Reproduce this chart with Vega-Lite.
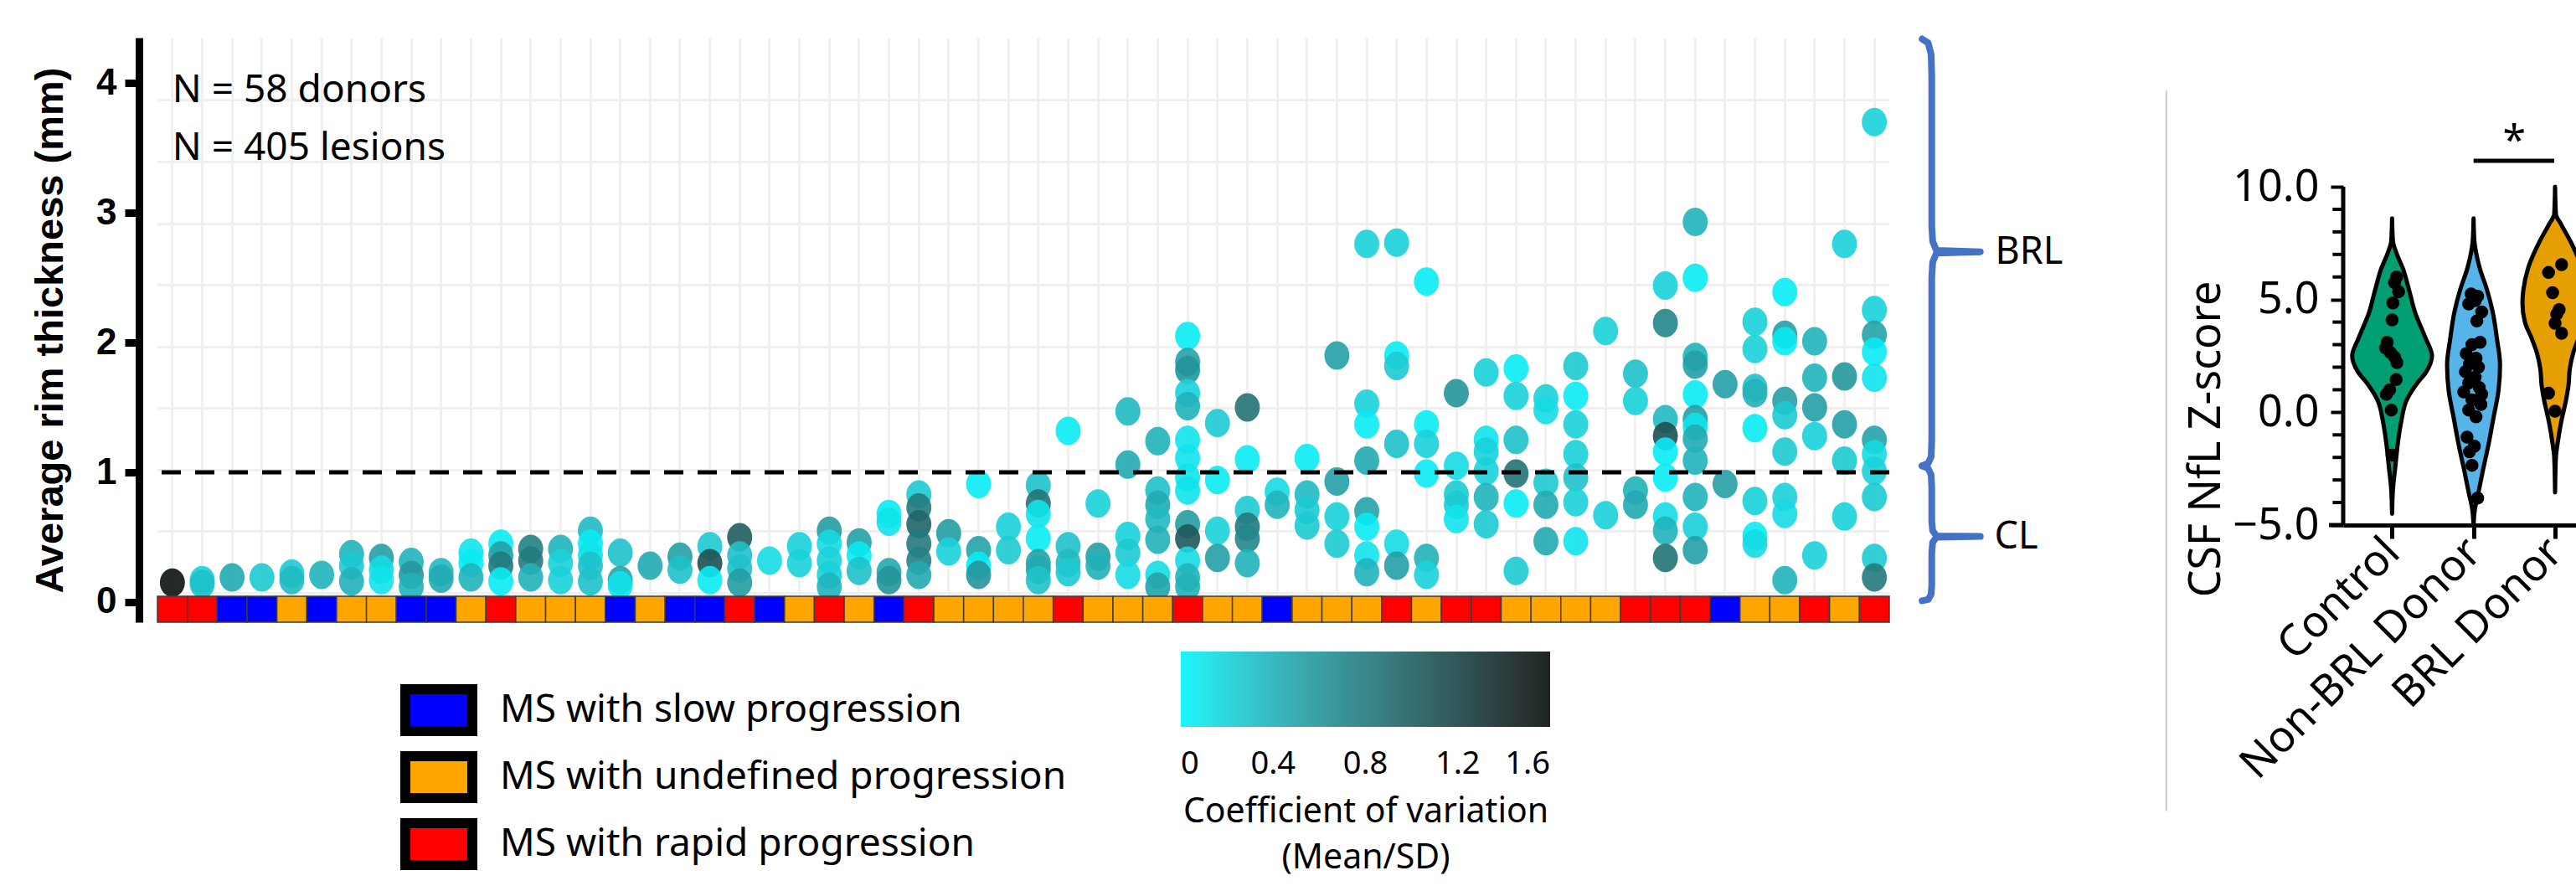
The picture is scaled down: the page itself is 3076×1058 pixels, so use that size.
{
"$schema": "https://vega.github.io/schema/vega-lite/v6.json",
"padding": {"left": 36, "top": 42, "right": 0, "bottom": 0},
"config": {"view": {"stroke": null}, "font": "Noto Sans", "axis": {"labelLimit": 1000, "titleLimit": 1000}, "legend": {"labelLimit": 1000, "titleLimit": 1000}},
"resolve": {"scale": {"color": "independent", "fill": "independent"}},
"spacing": 20,
"datasets": {
"lesions": [
{"d":1,"v":0.15,"c":1.55},
{"d":2,"v":0.17,"c":0.2},{"d":2,"v":0.14,"c":0.3},
{"d":3,"v":0.19,"c":0.45},
{"d":4,"v":0.19,"c":0.25},
{"d":5,"v":0.22,"c":0.25},{"d":5,"v":0.17,"c":0.35},
{"d":6,"v":0.21,"c":0.38},
{"d":7,"v":0.37,"c":0.38},{"d":7,"v":0.28,"c":0.25},{"d":7,"v":0.16,"c":0.4},
{"d":8,"v":0.34,"c":0.52},{"d":8,"v":0.25,"c":0.15},{"d":8,"v":0.17,"c":0.1},
{"d":9,"v":0.31,"c":0.38},{"d":9,"v":0.21,"c":0.58},{"d":9,"v":0.12,"c":0.4},
{"d":10,"v":0.23,"c":0.35},{"d":10,"v":0.18,"c":0.45},
{"d":11,"v":0.38,"c":0.1},{"d":11,"v":0.3,"c":0.05},{"d":11,"v":0.19,"c":0.38},
{"d":12,"v":0.45,"c":0.05},{"d":12,"v":0.36,"c":0.52},{"d":12,"v":0.28,"c":0.8},{"d":12,"v":0.16,"c":0.05},
{"d":13,"v":0.41,"c":0.75},{"d":13,"v":0.32,"c":0.8},{"d":13,"v":0.19,"c":0.4},
{"d":14,"v":0.41,"c":0.38},{"d":14,"v":0.3,"c":0.2},{"d":14,"v":0.17,"c":0.2},
{"d":15,"v":0.55,"c":0.35},{"d":15,"v":0.45,"c":0.05},{"d":15,"v":0.36,"c":0.1},{"d":15,"v":0.28,"c":0.3},{"d":15,"v":0.16,"c":0.3},
{"d":16,"v":0.38,"c":0.3},{"d":16,"v":0.17,"c":0.5},{"d":16,"v":0.13,"c":0.1},
{"d":17,"v":0.28,"c":0.45},
{"d":18,"v":0.35,"c":0.52},{"d":18,"v":0.25,"c":0.3},
{"d":19,"v":0.43,"c":0.25},{"d":19,"v":0.3,"c":1.1},{"d":19,"v":0.17,"c":0.05},
{"d":20,"v":0.5,"c":1.0},{"d":20,"v":0.36,"c":0.3},{"d":20,"v":0.26,"c":0.3},{"d":20,"v":0.15,"c":0.55},
{"d":21,"v":0.32,"c":0.15},
{"d":22,"v":0.43,"c":0.2},{"d":22,"v":0.3,"c":0.2},
{"d":23,"v":0.55,"c":0.55},{"d":23,"v":0.45,"c":0.15},{"d":23,"v":0.32,"c":0.2},{"d":23,"v":0.21,"c":0.2},{"d":23,"v":0.12,"c":0.38},
{"d":24,"v":0.46,"c":0.52},{"d":24,"v":0.36,"c":0.05},{"d":24,"v":0.24,"c":0.3},
{"d":25,"v":0.68,"c":0.05},{"d":25,"v":0.62,"c":0.1},{"d":25,"v":0.23,"c":0.45},{"d":25,"v":0.17,"c":0.6},
{"d":26,"v":0.83,"c":0.25},{"d":26,"v":0.73,"c":0.8},{"d":26,"v":0.6,"c":0.95},{"d":26,"v":0.45,"c":0.8},{"d":26,"v":0.32,"c":0.75},{"d":26,"v":0.21,"c":0.45},
{"d":27,"v":0.53,"c":0.55},{"d":27,"v":0.39,"c":0.2},
{"d":28,"v":0.91,"c":0.05},{"d":28,"v":0.4,"c":0.5},{"d":28,"v":0.28,"c":0.05},{"d":28,"v":0.21,"c":0.6},
{"d":29,"v":0.58,"c":0.2},{"d":29,"v":0.4,"c":0.25},
{"d":30,"v":0.9,"c":0.3},{"d":30,"v":0.76,"c":0.85},{"d":30,"v":0.68,"c":0.1},{"d":30,"v":0.49,"c":0.05},{"d":30,"v":0.3,"c":0.5},{"d":30,"v":0.25,"c":0.45},{"d":30,"v":0.17,"c":0.3},
{"d":31,"v":1.32,"c":0.05},{"d":31,"v":0.43,"c":0.3},{"d":31,"v":0.3,"c":0.35},{"d":31,"v":0.23,"c":0.25},
{"d":32,"v":0.76,"c":0.2},{"d":32,"v":0.35,"c":0.52},{"d":32,"v":0.28,"c":0.4},
{"d":33,"v":1.47,"c":0.35},{"d":33,"v":1.06,"c":0.45},{"d":33,"v":0.51,"c":0.2},{"d":33,"v":0.38,"c":0.25},{"d":33,"v":0.21,"c":0.15},
{"d":34,"v":1.24,"c":0.4},{"d":34,"v":0.86,"c":0.3},{"d":34,"v":0.75,"c":0.45},{"d":34,"v":0.64,"c":0.35},{"d":34,"v":0.48,"c":0.4},{"d":34,"v":0.21,"c":0.15},{"d":34,"v":0.12,"c":0.5},
{"d":35,"v":2.05,"c":0.05},{"d":35,"v":1.85,"c":0.5},{"d":35,"v":1.79,"c":0.6},{"d":35,"v":1.61,"c":0.2},{"d":35,"v":1.51,"c":0.4},{"d":35,"v":1.25,"c":0.1},{"d":35,"v":1.11,"c":0.1},{"d":35,"v":0.96,"c":0.1},{"d":35,"v":0.86,"c":0.1},{"d":35,"v":0.6,"c":0.55},{"d":35,"v":0.49,"c":1.05},{"d":35,"v":0.32,"c":0.15},{"d":35,"v":0.19,"c":0.38},{"d":35,"v":0.12,"c":0.4},
{"d":36,"v":1.38,"c":0.25},{"d":36,"v":0.94,"c":0.05},{"d":36,"v":0.55,"c":0.2},{"d":36,"v":0.34,"c":0.52},
{"d":37,"v":1.5,"c":0.85},{"d":37,"v":1.1,"c":0.05},{"d":37,"v":0.71,"c":0.25},{"d":37,"v":0.58,"c":0.8},{"d":37,"v":0.49,"c":0.7},{"d":37,"v":0.3,"c":0.38},
{"d":38,"v":0.85,"c":0.15},{"d":38,"v":0.75,"c":0.38},
{"d":39,"v":1.11,"c":0.05},{"d":39,"v":0.83,"c":0.35},{"d":39,"v":0.71,"c":0.25},{"d":39,"v":0.59,"c":0.25},
{"d":40,"v":1.9,"c":0.52},{"d":40,"v":0.93,"c":0.52},{"d":40,"v":0.66,"c":0.2},{"d":40,"v":0.45,"c":0.25},
{"d":41,"v":2.76,"c":0.2},{"d":41,"v":1.53,"c":0.2},{"d":41,"v":1.37,"c":0.05},{"d":41,"v":1.09,"c":0.45},{"d":41,"v":0.7,"c":0.5},{"d":41,"v":0.58,"c":0.05},{"d":41,"v":0.36,"c":0.1},{"d":41,"v":0.23,"c":0.38},
{"d":42,"v":2.77,"c":0.2},{"d":42,"v":1.9,"c":0.05},{"d":42,"v":1.82,"c":0.25},{"d":42,"v":1.22,"c":0.3},{"d":42,"v":0.45,"c":0.15},{"d":42,"v":0.28,"c":0.52},
{"d":43,"v":2.47,"c":0.05},{"d":43,"v":1.37,"c":0.05},{"d":43,"v":1.22,"c":0.2},{"d":43,"v":0.99,"c":0.05},{"d":43,"v":0.34,"c":0.4},{"d":43,"v":0.21,"c":0.2},
{"d":44,"v":1.61,"c":0.6},{"d":44,"v":1.05,"c":0.15},{"d":44,"v":0.83,"c":0.25},{"d":44,"v":0.75,"c":0.25},{"d":44,"v":0.64,"c":0.1},
{"d":45,"v":1.77,"c":0.2},{"d":45,"v":1.25,"c":0.1},{"d":45,"v":1.16,"c":0.2},{"d":45,"v":1.01,"c":0.2},{"d":45,"v":0.81,"c":0.38},{"d":45,"v":0.6,"c":0.25},
{"d":46,"v":1.8,"c":0.05},{"d":46,"v":1.59,"c":0.2},{"d":46,"v":1.25,"c":0.3},{"d":46,"v":0.99,"c":0.85},{"d":46,"v":0.76,"c":0.05},{"d":46,"v":0.24,"c":0.25},
{"d":47,"v":1.57,"c":0.2},{"d":47,"v":1.48,"c":0.15},{"d":47,"v":0.92,"c":0.25},{"d":47,"v":0.75,"c":0.45},{"d":47,"v":0.47,"c":0.45},
{"d":48,"v":1.82,"c":0.25},{"d":48,"v":1.59,"c":0.05},{"d":48,"v":1.37,"c":0.2},{"d":48,"v":1.14,"c":0.2},{"d":48,"v":0.96,"c":0.3},{"d":48,"v":0.77,"c":0.2},{"d":48,"v":0.47,"c":0.1},
{"d":49,"v":2.09,"c":0.2},{"d":49,"v":0.67,"c":0.2},
{"d":50,"v":1.76,"c":0.3},{"d":50,"v":1.55,"c":0.2},{"d":50,"v":0.86,"c":0.4},{"d":50,"v":0.75,"c":0.45},
{"d":51,"v":2.44,"c":0.2},{"d":51,"v":2.15,"c":0.72},{"d":51,"v":1.41,"c":0.35},{"d":51,"v":1.28,"c":1.1},{"d":51,"v":1.16,"c":0.05},{"d":51,"v":0.96,"c":0.05},{"d":51,"v":0.66,"c":0.15},{"d":51,"v":0.55,"c":0.38},{"d":51,"v":0.34,"c":0.85},
{"d":52,"v":2.93,"c":0.38},{"d":52,"v":2.5,"c":0.05},{"d":52,"v":1.89,"c":0.38},{"d":52,"v":1.83,"c":0.52},{"d":52,"v":1.6,"c":0.05},{"d":52,"v":1.41,"c":0.52},{"d":52,"v":1.35,"c":0.1},{"d":52,"v":1.26,"c":0.45},{"d":52,"v":1.09,"c":0.38},{"d":52,"v":0.81,"c":0.38},{"d":52,"v":0.58,"c":0.2},{"d":52,"v":0.4,"c":0.52},
{"d":53,"v":1.68,"c":0.52},{"d":53,"v":0.91,"c":0.52},
{"d":54,"v":2.16,"c":0.2},{"d":54,"v":1.95,"c":0.2},{"d":54,"v":1.65,"c":0.3},{"d":54,"v":1.61,"c":0.4},{"d":54,"v":1.34,"c":0.05},{"d":54,"v":0.78,"c":0.2},{"d":54,"v":0.51,"c":0.05},{"d":54,"v":0.45,"c":0.15},
{"d":55,"v":2.39,"c":0.05},{"d":55,"v":2.06,"c":0.52},{"d":55,"v":2.01,"c":0.05},{"d":55,"v":1.55,"c":0.52},{"d":55,"v":1.44,"c":0.25},{"d":55,"v":1.16,"c":0.25},{"d":55,"v":0.81,"c":0.2},{"d":55,"v":0.68,"c":0.15},{"d":55,"v":0.17,"c":0.38},
{"d":56,"v":2.01,"c":0.38},{"d":56,"v":1.73,"c":0.38},{"d":56,"v":1.5,"c":0.52},{"d":56,"v":1.28,"c":0.2},{"d":56,"v":0.36,"c":0.2},
{"d":57,"v":2.76,"c":0.2},{"d":57,"v":1.74,"c":0.58},{"d":57,"v":1.37,"c":0.52},{"d":57,"v":1.09,"c":0.25},{"d":57,"v":0.66,"c":0.2},
{"d":58,"v":3.7,"c":0.2},{"d":58,"v":2.25,"c":0.2},{"d":58,"v":2.06,"c":0.5},{"d":58,"v":1.93,"c":0.05},{"d":58,"v":1.73,"c":0.1},{"d":58,"v":1.25,"c":0.5},{"d":58,"v":1.14,"c":0.15},{"d":58,"v":1.01,"c":0.2},{"d":58,"v":0.81,"c":0.25},{"d":58,"v":0.34,"c":0.25},{"d":58,"v":0.19,"c":0.8}
],
"donors": [
{"d":1,"p":"rapid"},{"d":2,"p":"rapid"},{"d":3,"p":"slow"},{"d":4,"p":"slow"},{"d":5,"p":"undefined"},{"d":6,"p":"slow"},{"d":7,"p":"undefined"},{"d":8,"p":"undefined"},{"d":9,"p":"slow"},{"d":10,"p":"slow"},
{"d":11,"p":"undefined"},{"d":12,"p":"rapid"},{"d":13,"p":"undefined"},{"d":14,"p":"undefined"},{"d":15,"p":"undefined"},{"d":16,"p":"slow"},{"d":17,"p":"undefined"},{"d":18,"p":"slow"},{"d":19,"p":"slow"},{"d":20,"p":"rapid"},
{"d":21,"p":"slow"},{"d":22,"p":"undefined"},{"d":23,"p":"rapid"},{"d":24,"p":"undefined"},{"d":25,"p":"slow"},{"d":26,"p":"rapid"},{"d":27,"p":"undefined"},{"d":28,"p":"undefined"},{"d":29,"p":"undefined"},{"d":30,"p":"undefined"},
{"d":31,"p":"rapid"},{"d":32,"p":"undefined"},{"d":33,"p":"undefined"},{"d":34,"p":"undefined"},{"d":35,"p":"rapid"},{"d":36,"p":"undefined"},{"d":37,"p":"undefined"},{"d":38,"p":"slow"},{"d":39,"p":"undefined"},{"d":40,"p":"undefined"},
{"d":41,"p":"undefined"},{"d":42,"p":"rapid"},{"d":43,"p":"undefined"},{"d":44,"p":"rapid"},{"d":45,"p":"rapid"},{"d":46,"p":"undefined"},{"d":47,"p":"undefined"},{"d":48,"p":"undefined"},{"d":49,"p":"undefined"},{"d":50,"p":"rapid"},
{"d":51,"p":"rapid"},{"d":52,"p":"rapid"},{"d":53,"p":"slow"},{"d":54,"p":"undefined"},{"d":55,"p":"undefined"},{"d":56,"p":"rapid"},{"d":57,"p":"undefined"},{"d":58,"p":"rapid"}
],
"notes": [
{"d":1,"v":3.85,"t":"N = 58 donors"},
{"d":1,"v":3.41,"t":"N = 405 lesions"}
],
"brace": [
{"seg":"BRL","o":1,"x":0.9,"y":4.34},{"seg":"BRL","o":2,"x":1.3,"y":4.31},{"seg":"BRL","o":3,"x":1.5,"y":4.22},{"seg":"BRL","o":4,"x":1.54,"y":4.05},{"seg":"BRL","o":5,"x":1.54,"y":2.9},{"seg":"BRL","o":6,"x":1.6,"y":2.78},{"seg":"BRL","o":7,"x":1.85,"y":2.71},{"seg":"BRL","o":8,"x":4.76,"y":2.7},{"seg":"BRL","o":9,"x":1.85,"y":2.69},{"seg":"BRL","o":10,"x":1.6,"y":2.62},{"seg":"BRL","o":11,"x":1.54,"y":2.5},{"seg":"BRL","o":12,"x":1.54,"y":1.25},{"seg":"BRL","o":13,"x":1.5,"y":1.12},{"seg":"BRL","o":14,"x":1.3,"y":1.07},{"seg":"BRL","o":15,"x":0.9,"y":1.05},
{"seg":"CL","o":1,"x":0.9,"y":1.05},{"seg":"CL","o":2,"x":1.3,"y":1.03},{"seg":"CL","o":3,"x":1.5,"y":0.98},{"seg":"CL","o":4,"x":1.54,"y":0.88},{"seg":"CL","o":5,"x":1.54,"y":0.62},{"seg":"CL","o":6,"x":1.6,"y":0.55},{"seg":"CL","o":7,"x":1.85,"y":0.51},{"seg":"CL","o":8,"x":4.76,"y":0.506},{"seg":"CL","o":9,"x":1.85,"y":0.5},{"seg":"CL","o":10,"x":1.6,"y":0.46},{"seg":"CL","o":11,"x":1.54,"y":0.38},{"seg":"CL","o":12,"x":1.54,"y":0.13},{"seg":"CL","o":13,"x":1.5,"y":0.06},{"seg":"CL","o":14,"x":1.3,"y":0.02},{"seg":"CL","o":15,"x":0.9,"y":0.01}
],
"braceLabels": [
{"x":5.75,"y":2.7,"t":"BRL"},
{"x":5.7,"y":0.506,"t":"CL"}
],
"violin": [
{"g":"Control","v":-4.5,"lo":1.0,"hi":1.0},{"g":"Control","v":-3.35,"lo":0.988,"hi":1.012},{"g":"Control","v":-2.4,"lo":0.96,"hi":1.04},{"g":"Control","v":-1.4,"lo":0.93,"hi":1.07},{"g":"Control","v":-0.45,"lo":0.89,"hi":1.11},{"g":"Control","v":0.55,"lo":0.82,"hi":1.18},{"g":"Control","v":1.3,"lo":0.69,"hi":1.31},{"g":"Control","v":1.8,"lo":0.58,"hi":1.42},{"g":"Control","v":2.5,"lo":0.51,"hi":1.49},{"g":"Control","v":3.3,"lo":0.59,"hi":1.41},{"g":"Control","v":4.45,"lo":0.72,"hi":1.28},{"g":"Control","v":5.4,"lo":0.79,"hi":1.21},{"g":"Control","v":6.4,"lo":0.87,"hi":1.13},{"g":"Control","v":7.0,"lo":0.94,"hi":1.06},{"g":"Control","v":7.6,"lo":0.99,"hi":1.01},{"g":"Control","v":8.6,"lo":1.0,"hi":1.0},
{"g":"Non-BRL Donor","v":-5.0,"lo":2.0,"hi":2.0},{"g":"Non-BRL Donor","v":-4.33,"lo":1.985,"hi":2.015},{"g":"Non-BRL Donor","v":-3.55,"lo":1.94,"hi":2.06},{"g":"Non-BRL Donor","v":-2.57,"lo":1.885,"hi":2.115},{"g":"Non-BRL Donor","v":-1.4,"lo":1.815,"hi":2.185},{"g":"Non-BRL Donor","v":-0.23,"lo":1.755,"hi":2.245},{"g":"Non-BRL Donor","v":0.94,"lo":1.695,"hi":2.305},{"g":"Non-BRL Donor","v":2.1,"lo":1.675,"hi":2.325},{"g":"Non-BRL Donor","v":3.3,"lo":1.715,"hi":2.285},{"g":"Non-BRL Donor","v":4.45,"lo":1.765,"hi":2.235},{"g":"Non-BRL Donor","v":5.43,"lo":1.835,"hi":2.165},{"g":"Non-BRL Donor","v":6.4,"lo":1.925,"hi":2.075},{"g":"Non-BRL Donor","v":7.1,"lo":1.97,"hi":2.03},{"g":"Non-BRL Donor","v":7.6,"lo":1.99,"hi":2.01},{"g":"Non-BRL Donor","v":8.6,"lo":2.0,"hi":2.0},
{"g":"BRL Donor","v":-3.55,"lo":3.0,"hi":3.0},{"g":"BRL Donor","v":-2.0,"lo":2.99,"hi":3.01},{"g":"BRL Donor","v":-1.4,"lo":2.97,"hi":3.03},{"g":"BRL Donor","v":-0.43,"lo":2.925,"hi":3.075},{"g":"BRL Donor","v":0.55,"lo":2.865,"hi":3.135},{"g":"BRL Donor","v":1.2,"lo":2.835,"hi":3.165},{"g":"BRL Donor","v":1.9,"lo":2.82,"hi":3.18},{"g":"BRL Donor","v":2.6,"lo":2.78,"hi":3.22},{"g":"BRL Donor","v":3.3,"lo":2.71,"hi":3.29},{"g":"BRL Donor","v":4.0,"lo":2.63,"hi":3.37},{"g":"BRL Donor","v":4.85,"lo":2.6,"hi":3.4},{"g":"BRL Donor","v":5.4,"lo":2.61,"hi":3.39},{"g":"BRL Donor","v":6.4,"lo":2.67,"hi":3.33},{"g":"BRL Donor","v":7.57,"lo":2.81,"hi":3.19},{"g":"BRL Donor","v":8.3,"lo":2.92,"hi":3.08},{"g":"BRL Donor","v":8.8,"lo":2.99,"hi":3.01},{"g":"BRL Donor","v":10.0,"lo":3.0,"hi":3.0}
],
"nfl": [
{"x":1.055,"v":6.0},{"x":1.03,"v":5.75},{"x":1.08,"v":5.35},{"x":1.01,"v":4.85},{"x":1.0,"v":4.1},{"x":0.94,"v":3.1},{"x":0.92,"v":2.85},{"x":0.98,"v":2.65},{"x":1.03,"v":2.45},{"x":1.06,"v":2.2},{"x":1.05,"v":1.45},{"x":0.97,"v":1.0},{"x":0.93,"v":0.8},{"x":0.99,"v":0.1},{"x":1.0,"v":-1.9},
{"x":1.97,"v":5.25},{"x":2.05,"v":5.15},{"x":2.02,"v":4.95},{"x":1.94,"v":4.8},{"x":2.1,"v":4.45},{"x":2.04,"v":4.05},{"x":2.08,"v":3.1},{"x":1.98,"v":3.0},{"x":1.91,"v":2.6},{"x":2.03,"v":2.4},{"x":1.95,"v":2.15},{"x":2.06,"v":2.0},{"x":1.9,"v":1.8},{"x":2.02,"v":1.55},{"x":1.94,"v":1.3},{"x":2.07,"v":1.1},{"x":1.88,"v":0.9},{"x":2.1,"v":0.8},{"x":1.98,"v":0.55},{"x":2.09,"v":0.35},{"x":1.94,"v":0.1},{"x":2.03,"v":-0.2},{"x":1.92,"v":-1.1},{"x":2.01,"v":-1.5},{"x":1.95,"v":-1.75},{"x":1.98,"v":-2.35},{"x":2.05,"v":-3.8},
{"x":3.08,"v":6.55},{"x":2.92,"v":6.2},{"x":2.97,"v":5.3},{"x":3.05,"v":4.55},{"x":3.02,"v":4.35},{"x":3.0,"v":3.95},{"x":3.08,"v":3.5},{"x":2.92,"v":0.85},{"x":3.0,"v":0.05}
],
"minorTicks": [
{"t":-4},{"t":-3},{"t":-2},{"t":-1},{"t":1},{"t":2},{"t":3},{"t":4},{"t":6},{"t":7},{"t":8},{"t":9}
]
},
"hconcat": [
{
"width": 2068, "height": 698,
"resolve": {"axis": {"y": "independent"}},
"layer": [
{
"data": {"name": "lesions"},
"mark": {"type": "point", "filled": true, "shape": "M0,-1A0.88,1,0,1,1,0,1A0.88,1,0,1,1,0,-1Z", "size": 1156, "opacity": 0.9, "strokeWidth": 0},
"encoding": {
"x": {"field": "d", "type": "ordinal", "scale": {"type": "band", "paddingInner": 0, "paddingOuter": 0},
"axis": {"grid": true, "bandPosition": 0.5, "gridColor": "#f0f0f0", "gridWidth": 3, "labels": false, "ticks": false, "domain": false, "title": null}},
"y": {"field": "v", "type": "quantitative", "scale": {"domain": [-0.155, 4.35], "nice": false, "zero": false},
"axis": {"orient": "left", "offset": 22, "values": [0, 1, 2, 3, 4], "format": "d", "grid": false, "domainWidth": 9, "domainColor": "black", "tickColor": "black", "tickSize": 17, "tickWidth": 9, "labelFont": "Liberation Sans", "labelFontWeight": "bold", "labelFontSize": 44, "labelColor": "black", "labelPadding": 10, "title": "Average rim thickness (mm)", "titleFont": "Liberation Sans", "titleFontSize": 47, "titleFontWeight": "bold", "titleColor": "black", "titlePadding": 30}},
"color": {"field": "c", "type": "quantitative",
"scale": {"domain": [0, 0.4, 0.8, 1.2, 1.6], "range": ["#00f4fc", "#21b1b9", "#237a7d", "#1b4446", "#060909"]},
"legend": {"orient": "none", "legendX": 1222, "legendY": 733, "direction": "horizontal", "type": "gradient", "gradientLength": 441, "gradientThickness": 90, "gradientStrokeWidth": 0, "values": [0, 0.4, 0.8, 1.2, 1.6], "format": ".1~f", "labelFontSize": 38, "labelColor": "black", "labelOffset": 26, "labelAlign": "center", "padding": 0, "title": ["Coefficient of variation", "(Mean/SD)"], "titleOrient": "bottom", "titleAnchor": "middle", "titleAlign": "center", "titleFontSize": 41, "titleFontWeight": "normal", "titleColor": "black", "titleLineHeight": 55, "titlePadding": 18}}
}
},
{
"data": {"values": [{}]},
"mark": {"type": "rule", "color": "black", "strokeWidth": 5, "strokeDash": [23, 17]},
"encoding": {
"y": {"datum": 1, "type": "quantitative",
"axis": {"orient": "right", "values": [0.071, 0.548, 1.019, 1.497, 1.968, 2.445, 2.916, 3.394, 3.871], "grid": true, "gridColor": "#efefef", "gridWidth": 3, "labels": false, "ticks": false, "domain": false, "title": null, "minExtent": 0, "maxExtent": 0, "zindex": 0}}
}
},
{
"data": {"name": "donors"},
"mark": {"type": "rect", "stroke": "#3c3c3c", "strokeWidth": 1.5},
"encoding": {
"x": {"field": "d", "type": "ordinal"},
"y": {"datum": 0.045, "type": "quantitative", "axis": null},
"y2": {"datum": -0.155},
"fill": {"field": "p", "type": "nominal",
"scale": {"domain": ["slow", "undefined", "rapid"], "range": ["#0000ff", "#ffa500", "#ff0000"]},
"legend": {"orient": "none", "legendX": 305, "legendY": 772, "title": null, "padding": 0, "symbolType": "M-1.6,-1H1.6V1H-1.6Z", "symbolSize": 2500, "symbolStrokeColor": "black", "symbolStrokeWidth": 12, "symbolOpacity": 1, "labelFontSize": 46, "labelColor": "black", "labelOffset": 42, "rowPadding": -18, "labelExpr": "'MS with ' + datum.label + ' progression'"}}
}
},
{
"data": {"name": "notes"},
"mark": {"type": "text", "align": "left", "baseline": "alphabetic", "fontSize": 46, "color": "black"},
"encoding": {
"x": {"field": "d", "type": "ordinal"},
"y": {"field": "v", "type": "quantitative", "axis": null},
"text": {"field": "t"}
}
}
]
},
{
"width": 180, "height": 698,
"layer": [
{
"data": {"name": "brace"},
"mark": {"type": "line", "color": "#4472c4", "strokeWidth": 8, "strokeCap": "round", "strokeJoin": "round"},
"encoding": {
"x": {"field": "x", "type": "quantitative", "scale": {"domain": [0, 10], "nice": false, "zero": false}, "axis": null},
"y": {"field": "y", "type": "quantitative", "scale": {"domain": [-0.155, 4.35], "nice": false, "zero": false}, "axis": null},
"detail": {"field": "seg"},
"order": {"field": "o"}
}
},
{
"data": {"name": "braceLabels"},
"mark": {"type": "text", "align": "left", "baseline": "middle", "fontSize": 45, "color": "black"},
"encoding": {
"x": {"field": "x", "type": "quantitative", "axis": null},
"y": {"field": "y", "type": "quantitative", "axis": null},
"text": {"field": "t"}
}
},
{
"data": {"values": [{}]},
"mark": {"type": "rule", "color": "#c8c8c8", "strokeWidth": 2},
"encoding": {
"x": {"datum": 17.1, "type": "quantitative", "axis": null},
"y": {"datum": 3.94, "type": "quantitative", "axis": null},
"y2": {"datum": -1.61}
}
}
]
},
{
"width": 289, "height": 582,
"resolve": {"axis": {"y": "independent"}},
"layer": [
{
"data": {"name": "violin"},
"mark": {"type": "area", "orient": "horizontal", "stroke": "black", "strokeWidth": 5, "strokeJoin": "round", "interpolate": "monotone", "clip": true, "opacity": 1},
"encoding": {
"y": {"field": "v", "type": "quantitative", "scale": {"domain": [-5, 16.61], "nice": false, "zero": false},
"axis": {"values": [-5, 0, 5, 10], "format": ".1f", "labelOverlap": false, "labelFontSize": 52, "domain": false, "grid": false, "tickSize": 15, "tickWidth": 4, "tickColor": "black", "labelColor": "black", "labelPadding": 14, "title": "CSF NfL Z-score", "titleFontSize": 52, "titleFontWeight": "normal", "titleColor": "black", "titleY": 479, "titlePadding": 4}},
"x": {"field": "lo", "type": "quantitative", "scale": {"domain": [0.4, 3.37], "nice": false, "zero": false},
"axis": {"values": [1, 2, 3], "labelExpr": "datum.value == 1 ? 'Control' : datum.value == 2 ? 'Non-BRL Donor' : 'BRL Donor'", "labelAngle": -45, "labelAlign": "right", "labelBaseline": "middle", "labelFontSize": 52, "labelColor": "black", "labelPadding": 8, "labelFlush": false, "labelOverlap": false, "tickSize": 16, "tickWidth": 5, "tickColor": "black", "domainWidth": 5, "domainColor": "black", "grid": false, "title": null}},
"x2": {"field": "hi"},
"fill": {"field": "g", "type": "nominal", "scale": {"domain": ["Control", "Non-BRL Donor", "BRL Donor"], "range": ["#009e73", "#56b4e9", "#e69f00"]}, "legend": null},
"detail": {"field": "g"}
}
},
{
"data": {"values": [{}]},
"mark": {"type": "rule", "color": "black", "strokeWidth": 5},
"encoding": {
"x": {"datum": 0.4, "type": "quantitative"},
"y": {"datum": -5, "type": "quantitative", "axis": null},
"y2": {"datum": 10}
}
},
{
"data": {"values": [{}]},
"mark": {"type": "rule", "color": "black", "strokeWidth": 5},
"encoding": {
"x": {"datum": 0.225, "type": "quantitative"},
"x2": {"datum": 0.4},
"y": {"datum": -5, "type": "quantitative", "axis": null}
}
},
{
"data": {"name": "minorTicks"},
"mark": {"type": "rule", "color": "black", "strokeWidth": 4},
"encoding": {
"x": {"datum": 0.27, "type": "quantitative"},
"x2": {"datum": 0.4},
"y": {"field": "t", "type": "quantitative", "axis": null}
}
},
{
"data": {"name": "nfl"},
"mark": {"type": "circle", "color": "black", "size": 240, "opacity": 1},
"encoding": {
"x": {"field": "x", "type": "quantitative"},
"y": {"field": "v", "type": "quantitative", "axis": null}
}
},
{
"data": {"values": [{}]},
"mark": {"type": "rule", "color": "black", "strokeWidth": 5},
"encoding": {
"x": {"datum": 2.0, "type": "quantitative"},
"x2": {"datum": 2.99},
"y": {"datum": 11.15, "type": "quantitative", "axis": null}
}
},
{
"data": {"values": [{"t": "*"}]},
"mark": {"type": "text", "fontSize": 50, "baseline": "alphabetic", "align": "center", "color": "black"},
"encoding": {
"x": {"datum": 2.5, "type": "quantitative"},
"y": {"datum": 11.4, "type": "quantitative", "axis": null},
"text": {"field": "t"}
}
}
]
}
]
}
